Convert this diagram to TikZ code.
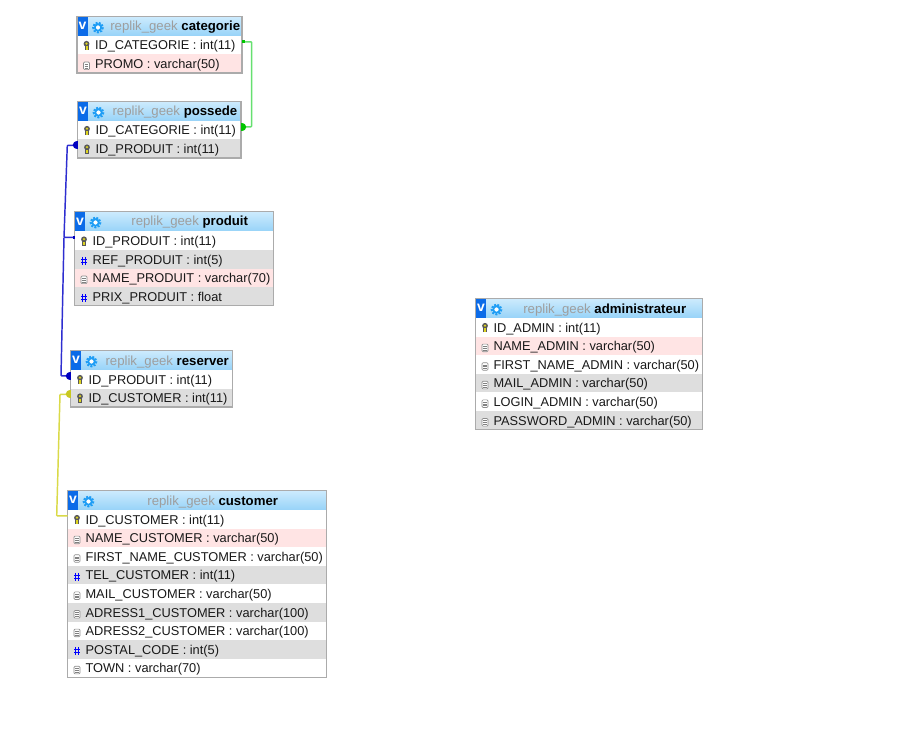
\documentclass[tikz,border=0pt]{standalone}
\usepackage{fontspec}
\setmainfont{Liberation Sans}
\definecolor{pinkrow}{HTML}{FFE4E4}
\definecolor{greyrow}{HTML}{DEDEDE}
\definecolor{whiterow}{HTML}{FFFFFF}
\definecolor{frame}{HTML}{ABABAB}
\definecolor{headtop}{HTML}{CDEBFD}
\definecolor{headbot}{HTML}{97D3F8}
\definecolor{vblue}{HTML}{0B6BE8}
\definecolor{gearblue}{HTML}{1E9DF5}
\definecolor{titlegrey}{HTML}{9E9E9E}
\definecolor{linegreen}{HTML}{66E070}
\definecolor{dotgreen}{HTML}{00C400}
\definecolor{lineblue}{HTML}{2E2ED0}
\definecolor{dotblue}{HTML}{0000C0}
\definecolor{lineyellow}{HTML}{DADA48}
\definecolor{dotyellow}{HTML}{C8C820}
\tikzset{
  x=0.75pt,y=-0.75pt,
  rowbox/.style={rectangle,inner sep=0pt,outer sep=0pt,anchor=north west,draw=none},
  rowtext/.style={inner sep=0pt,anchor=base west,font=\fontsize{9.6}{11}\selectfont,text=black!90},
  titletext/.style={inner sep=0pt,anchor=base,font=\fontsize{9.9}{11}\selectfont},
  headbox/.style={rectangle,inner sep=0pt,outer sep=0pt,anchor=north west,top color=headtop,bottom color=headbot,draw=none},
  vbox/.style={rectangle,inner sep=0pt,outer sep=0pt,anchor=north west,fill=vblue,minimum width=7.5pt,text=white,font=\fontsize{10.5}{11}\selectfont\bfseries},
  frameline/.style={draw=frame,line width=0.85pt},
  link/.style={line width=1.1pt,rounded corners=0.6pt},
  up/.style={yshift=2.6pt},
}
% half disc: colour, coordinate, half height (pt), control offset (signed pt)
\newcommand{\halfdisc}[4]{%
  \fill[#1] ([yshift=#3]#2) .. controls ([xshift=#4,yshift=#3]#2) and ([xshift=#4,yshift=-#3]#2) .. ([yshift=-#3]#2) -- cycle;}
% icons at (x,y) in px, y = top of the row
\newcommand{\iconkey}[2]{%
  \fill[black!65] (#1,#2+7.8) circle[radius=2.9];
  \fill[black!65] (#1-2,#2+8) rectangle (#1+2,#2+14.4);
  \fill[yellow!85!black] (#1,#2+7.6) circle[radius=1.3];
  \fill[yellow!85!black] (#1-0.9,#2+10.4) rectangle (#1+1,#2+13.6);}
\newcommand{\icondoc}[2]{%
  \draw[black!45,fill=white,line width=0.5pt,rounded corners=0.8pt] (#1-3,#2+7.5) rectangle (#1+3,#2+15.1);
  \draw[black!50,line width=0.4pt] (#1-1.8,#2+9.7) -- (#1+1.8,#2+9.7) (#1-1.8,#2+11.5) -- (#1+1.8,#2+11.5) (#1-1.8,#2+13.3) -- (#1+1.8,#2+13.3);}
\newcommand{\iconnum}[2]{%
  \draw[blue,line width=0.75pt] (#1-1.3,#2+7) -- (#1-1.3,#2+15) (#1+1.5,#2+7) -- (#1+1.5,#2+15)
    (#1-3,#2+9.6) -- (#1+3.2,#2+9.6) (#1-3,#2+12.4) -- (#1+3.2,#2+12.4);}
\newcommand{\icongear}[2]{%
  \draw[gearblue,line width=1.5pt,densely dotted] (#1,#2) circle[radius=4.9];
  \draw[gearblue,fill=white,line width=1.3pt] (#1,#2) circle[radius=3.2];}
% #1 name, #2 left, #3 top, #4 right, #5 header bottom, #6 row height, #7 bold title, #8 rows
\newcommand{\dbtable}[8]{%
  \pgfmathsetmacro{\tw}{(#4-#2)*0.75}%
  \pgfmathsetmacro{\hh}{(#5-#3)*0.75}%
  \pgfmathsetmacro{\rh}{#6*0.75}%
  \node[headbox,minimum width=\tw pt,minimum height=\hh pt] (#1-head) at (#2,#3) {};
  \node[vbox,minimum height=\hh pt] (#1-v) at (#2+0.5,#3) {v};
  \icongear{#2+21}{#3+11}
  \node[titletext] (#1-title) at ({(#2+28+#4)/2+1.7},#3+14.5) {\textcolor{titlegrey}{replik\_geek} \textbf{#7}};
  \foreach \ic/\col/\txt [count=\ri] in {#8} {
    \pgfmathsetmacro{\ry}{#5+(\ri-1)*#6}
    \node[rowbox,fill=\col,minimum width=\tw pt,minimum height=\rh pt] (#1-\ri) at (#2,\ry) {};
    \node[rowtext] (#1-t\ri) at (#2+17.8,\ry+14) {\txt};
    \csname icon\ic\endcsname{#2+9.5}{\ry}
  }
}
\begin{document}
\begin{tikzpicture}
\useasboundingbox (0,0) rectangle (919,741);
\fill[white] (0,0) rectangle (919,741);

\dbtable{cat}{77}{16.5}{242}{36}{18.5}{categorie}{%
  key/whiterow/{ID\_CATEGORIE : int(11)},
  doc/pinkrow/{PROMO : varchar(50)}}
\draw[frameline] (cat-head.north west) rectangle (cat-2.south east);

\dbtable{pos}{77.5}{101.5}{241}{121}{18.5}{possede}{%
  key/whiterow/{ID\_CATEGORIE : int(11)},
  key/greyrow/{ID\_PRODUIT : int(11)}}
\draw[frameline] (pos-head.north west) rectangle (pos-2.south east);

\dbtable{pro}{74.5}{211.5}{273.5}{231.5}{18.5}{produit}{%
  key/whiterow/{ID\_PRODUIT : int(11)},
  num/greyrow/{REF\_PRODUIT : int(5)},
  doc/pinkrow/{NAME\_PRODUIT : varchar(70)},
  num/greyrow/{PRIX\_PRODUIT : float}}
\draw[frameline] (pro-head.north west) rectangle (pro-4.south east);

\dbtable{res}{70.5}{350.5}{232.5}{370}{18.5}{reserver}{%
  key/whiterow/{ID\_PRODUIT : int(11)},
  key/greyrow/{ID\_CUSTOMER : int(11)}}
\draw[frameline] (res-head.north west) rectangle (res-2.south east);

\dbtable{cus}{67.5}{490.5}{326.5}{510}{18.6}{customer}{%
  key/whiterow/{ID\_CUSTOMER : int(11)},
  doc/pinkrow/{NAME\_CUSTOMER : varchar(50)},
  doc/whiterow/{FIRST\_NAME\_CUSTOMER : varchar(50)},
  num/greyrow/{TEL\_CUSTOMER : int(11)},
  doc/whiterow/{MAIL\_CUSTOMER : varchar(50)},
  doc/greyrow/{ADRESS1\_CUSTOMER : varchar(100)},
  doc/whiterow/{ADRESS2\_CUSTOMER : varchar(100)},
  num/greyrow/{POSTAL\_CODE : int(5)},
  doc/whiterow/{TOWN : varchar(70)}}
\draw[frameline] (cus-head.north west) rectangle (cus-9.south east);

\dbtable{adm}{475.5}{298.5}{702.5}{318}{18.6}{administrateur}{%
  key/whiterow/{ID\_ADMIN : int(11)},
  doc/pinkrow/{NAME\_ADMIN : varchar(50)},
  doc/whiterow/{FIRST\_NAME\_ADMIN : varchar(50)},
  doc/greyrow/{MAIL\_ADMIN : varchar(50)},
  doc/whiterow/{LOGIN\_ADMIN : varchar(50)},
  doc/greyrow/{PASSWORD\_ADMIN : varchar(50)}}
\draw[frameline] (adm-head.north west) rectangle (adm-6.south east);

% connectors: each leaves its row slightly above the row's centre
\coordinate (gS) at ([up]cat-1.east);
\coordinate (gE) at ([up]pos-1.east);
\coordinate (gA) at (251.7,0 |- gS);
\coordinate (gB) at (251.7,0 |- gE);
\draw[link,linegreen] (gS) -- (gA) -- (gB) -- (gE);
\fill[dotgreen] ([yshift=-1.2pt]gS) rectangle ++(2.5pt,2.5pt);
\halfdisc{dotgreen}{gE}{3.2pt}{5.6pt}

\coordinate (bP) at ([up]pos-2.west);
\coordinate (bO) at ([up]pro-1.west);
\coordinate (bR) at ([up]res-1.west);
\coordinate (bA) at (67.3,0 |- bP);
\coordinate (bB) at (64,0 |- bO);
\coordinate (bC) at (61,0 |- bR);
\draw[link,lineblue] (bP) -- (bA) -- (bB) -- (bO);
\draw[link,lineblue] (bR) -- (bC) -- (bB);
\halfdisc{dotblue}{bP}{3pt}{-4.6pt}
\halfdisc{dotblue}{bR}{3pt}{-4.6pt}
\fill[dotblue] ([xshift=-1pt,yshift=-1.2pt]bO) rectangle ++(1pt,2.4pt);

\coordinate (yR) at ([up]res-2.west);
\coordinate (yC) at ([up]cus-1.west);
\coordinate (yA) at (60,0 |- yR);
\coordinate (yB) at (56.7,0 |- yC);
\draw[link,lineyellow] (yR) -- (yA) -- (yB) -- (yC);
\halfdisc{dotyellow}{yR}{3pt}{-4.6pt}
\end{tikzpicture}
\end{document}
